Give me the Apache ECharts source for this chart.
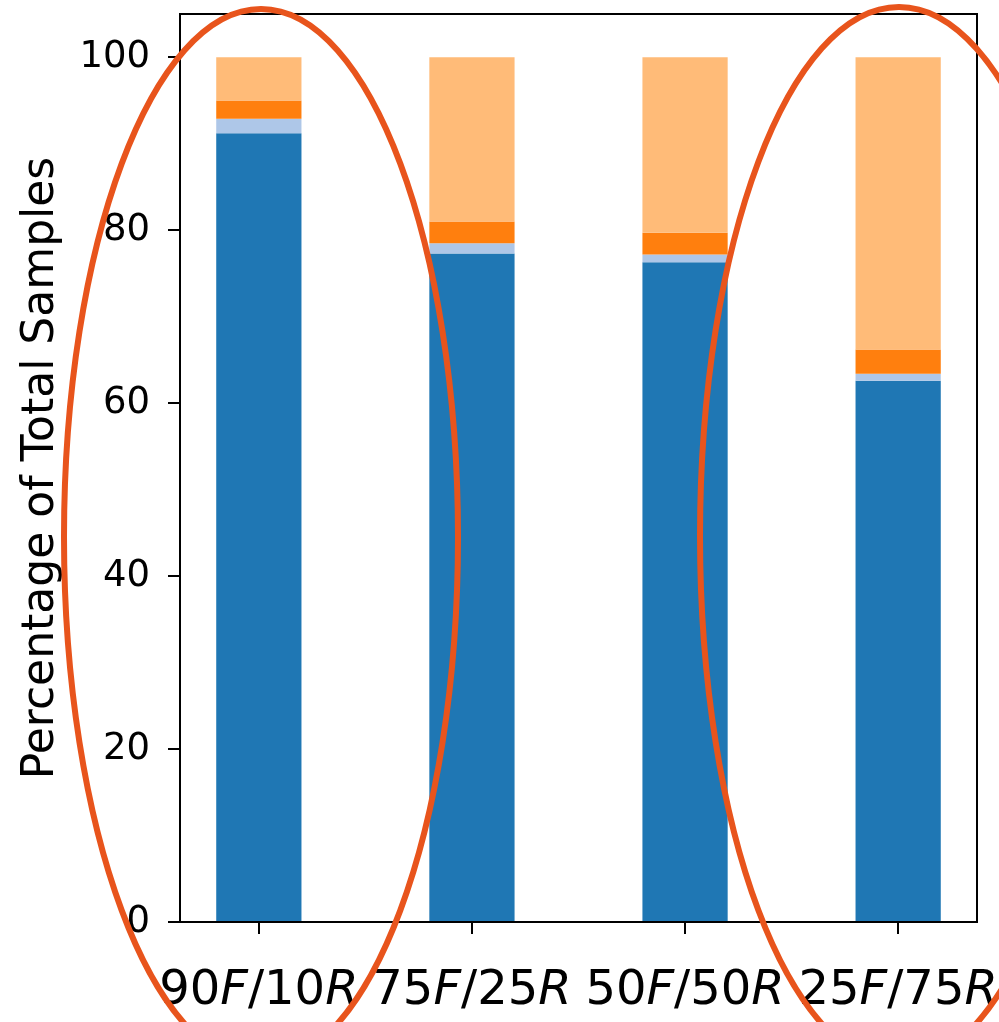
<!DOCTYPE html>
<html>
<head>
<meta charset="utf-8">
<script src="https://cdn.jsdelivr.net/npm/echarts@6/dist/echarts.min.js"></script>
<style>
  html, body { margin: 0; padding: 0; background: #ffffff; }
  #chart { width: 999px; height: 1022px; }
</style>
</head>
<body>
<div id="chart"></div>
<script>
// categories along x (F / R mixes)
const categories = ["90F/10R", "75F/25R", "50F/50R", "25F/75R"];
const xPositions = [0, 1, 2, 3];

// stacked segments, bottom to top (percent of total samples)
const segDarkBlue = [91.2, 77.3, 76.3, 62.6];
const segLightBlue = [1.7, 1.2, 0.9, 0.8];
const segOrange = [2.1, 2.5, 2.5, 2.8];
const segLightOrange = [5.0, 19.0, 20.3, 33.8];

const yTicks = [0, 20, 40, 60, 80, 100];

const segColors = ["#1f77b4", "#aec7e8", "#ff7f0e", "#ffbb78"];
const segments = [segDarkBlue, segLightBlue, segOrange, segLightOrange];

const FONT = "DejaVu Sans";

// frame layout (matplotlib style xlim -0.37..3.37)
const W = 999, H = 1022;
const frameLeft = 180, frameRight = 22, frameTop = 14, frameBottom = 100;
const xMin = -0.37, xMax = 3.37;
const frameWidth = W - frameLeft - frameRight;
const pxPerUnit = frameWidth / (xMax - xMin);
// the category grid for the bars: one band per category, aligned to the frame's x scale
const barGridLeft = frameLeft + (-0.5 - xMin) * pxPerUnit;
const barGridWidth = categories.length * pxPerUnit;

// "90F/10R" -> rich text with italic letters like mathtext
function mathLabel(s) {
  return s.replace(/([A-Za-z]+)|([^A-Za-z]+)/g, function (m, letters, other) {
    if (letters) return "{i|" + letters + "}";
    return "{n|" + other + "}";
  });
}

let myChart = echarts.init(document.getElementById("chart"));

let seriesList = segments.map((vals, si) => {
  return {
    type: "bar",
    stack: "total",
    xAxisIndex: 1,
    yAxisIndex: 1,
    barWidth: "40%",
    itemStyle: { color: segColors[si] },
    data: vals,
  };
});

let option = {
  backgroundColor: "#ffffff",
  animation: false,
  grid: [
    {
      left: frameLeft,
      right: frameRight,
      top: frameTop,
      bottom: frameBottom,
      outerBoundsMode: "none",
      show: true,
      borderColor: "#000000",
      borderWidth: 2,
      backgroundColor: "transparent",
      z: 5,
    },
    {
      left: barGridLeft,
      width: barGridWidth,
      top: frameTop,
      bottom: frameBottom,
      outerBoundsMode: "none",
    },
  ],
  xAxis: [
    {
      gridIndex: 0,
      type: "value",
      min: xMin,
      max: xMax,
      splitLine: { show: false },
      axisLine: { show: true, onZero: false, lineStyle: { color: "#000000", width: 2 } },
      axisTick: {
        show: true,
        length: 12,
        customValues: xPositions,
        lineStyle: { color: "#000000", width: 2 },
      },
      axisLabel: {
        customValues: xPositions,
        margin: 46,
        color: "#000000",
        formatter: function (v) {
          let idx = Math.round(v);
          return mathLabel(categories[idx] || "");
        },
        rich: {
          n: { fontFamily: FONT, fontSize: 48, color: "#000000" },
          i: { fontFamily: FONT, fontStyle: "italic", fontSize: 48, color: "#000000" },
        },
      },
    },
    {
      gridIndex: 1,
      type: "category",
      data: categories,
      show: false,
    },
  ],
  yAxis: [
    {
      gridIndex: 0,
      type: "value",
      min: 0,
      max: 105,
      interval: 20,
      name: "Percentage of Total Samples",
      nameLocation: "middle",
      nameGap: 116,
      nameTextStyle: { fontFamily: FONT, fontSize: 44, color: "#000000" },
      splitLine: { show: false },
      axisLine: { show: true, onZero: false, lineStyle: { color: "#000000", width: 2 } },
      axisTick: {
        show: true,
        length: 12,
        customValues: yTicks,
        lineStyle: { color: "#000000", width: 2 },
      },
      axisLabel: {
        customValues: yTicks,
        margin: 30,
        fontFamily: FONT,
        fontSize: 37,
        color: "#000000",
      },
    },
    {
      gridIndex: 1,
      type: "value",
      min: 0,
      max: 105,
      show: false,
      splitLine: { show: false },
    },
  ],
  series: seriesList,
  graphic: [
    {
      type: "ellipse",
      z: 100,
      shape: { cx: 261, cy: 537, rx: 197, ry: 528 },
      style: { fill: "none", stroke: "#e8541c", lineWidth: 6 },
    },
    {
      type: "ellipse",
      z: 100,
      shape: { cx: 899, cy: 536, rx: 199, ry: 529 },
      style: { fill: "none", stroke: "#e8541c", lineWidth: 6 },
    },
  ],
};

myChart.setOption(option);
</script>
</body>
</html>
